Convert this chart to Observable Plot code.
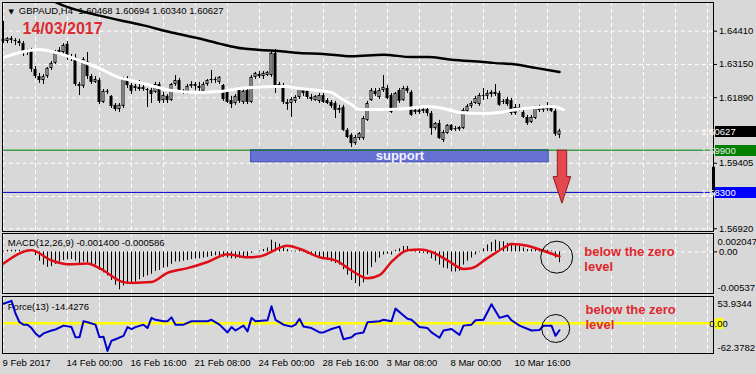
<!DOCTYPE html>
<html><head><meta charset="utf-8">
<script src="https://cdn.jsdelivr.net/npm/d3@7"></script>
<script src="https://cdn.jsdelivr.net/npm/@observablehq/plot@0.6"></script>
<style>
html,body{margin:0;padding:0;background:#d8d8d8;}
#chart{position:relative;width:756px;height:374px;background:#d8d8d8;overflow:hidden;font-family:"Liberation Sans",Arial,sans-serif;}
#chart svg{position:absolute;left:0;}
</style></head><body><div id="chart"></div>
<script>
// ---------- DATA ----------
const symbolTitle = "GBPAUD,H4\u00a0 1.60468 1.60694 1.60340 1.60627";
const dateTitle = "14/03/2017";
const opens = [1.6410,1.6402,1.6413,1.6406,1.6402,1.6394,1.6360,1.6364,1.6296,1.6269,
1.6254,1.6269,1.6300,1.6319,1.6360,1.6360,1.6391,1.6341,1.6341,1.6239,
1.6232,1.6326,1.6269,1.6247,1.6254,1.6171,1.6213,1.6194,1.6160,1.6144,
1.6156,1.6258,1.6235,1.6224,1.6228,1.6220,1.6220,1.6216,1.6209,1.6239,
1.6178,1.6194,1.6178,1.6239,1.6254,1.6213,1.6209,1.6232,1.6239,1.6232,
1.6213,1.6239,1.6254,1.6258,1.6247,1.6235,1.6209,1.6178,1.6167,1.6220,
1.6171,1.6216,1.6171,1.6266,1.6277,1.6269,1.6273,1.6273,1.6357,1.6232,
1.6235,1.6171,1.6167,1.6175,1.6190,1.6216,1.6216,1.6190,1.6178,1.6175,
1.6197,1.6178,1.6171,1.6167,1.6148,1.6152,1.6065,1.6046,1.6015,1.6034,
1.6034,1.6103,1.6178,1.6213,1.6190,1.6216,1.6224,1.6197,1.6141,1.6216,
1.6178,1.6224,1.6209,1.6141,1.6141,1.6144,1.6144,1.6129,1.6072,1.6091,
1.6027,1.6053,1.6084,1.6072,1.6068,1.6072,1.6137,1.6156,1.6167,1.6163,
1.6194,1.6194,1.6201,1.6209,1.6205,1.6175,1.6182,1.6178,1.6129,1.6152,
1.6133,1.6114,1.6095,1.6110,1.6148,1.6141,1.6144,1.6152,1.6137,1.60468];
const highs = [1.6478,1.6417,1.6421,1.6413,1.6410,1.6402,1.6372,1.6376,1.6307,1.6281,
1.6277,1.6303,1.6326,1.6368,1.6379,1.6394,1.6402,1.6353,1.6353,1.6247,
1.6341,1.6360,1.6277,1.6269,1.6262,1.6220,1.6220,1.6197,1.6167,1.6167,
1.6266,1.6269,1.6243,1.6239,1.6254,1.6235,1.6224,1.6224,1.6247,1.6247,
1.6209,1.6201,1.6243,1.6273,1.6262,1.6220,1.6239,1.6250,1.6247,1.6247,
1.6247,1.6258,1.6292,1.6266,1.6269,1.6239,1.6216,1.6194,1.6201,1.6228,
1.6220,1.6228,1.6273,1.6285,1.6288,1.6288,1.6288,1.6364,1.6372,1.6247,
1.6243,1.6182,1.6190,1.6197,1.6224,1.6224,1.6224,1.6201,1.6197,1.6205,
1.6205,1.6186,1.6178,1.6175,1.6160,1.6160,1.6072,1.6053,1.6046,1.6057,
1.6118,1.6175,1.6224,1.6224,1.6224,1.6273,1.6235,1.6205,1.6209,1.6224,
1.6232,1.6232,1.6216,1.6156,1.6152,1.6152,1.6152,1.6137,1.6095,1.6103,
1.6065,1.6087,1.6087,1.6080,1.6080,1.6148,1.6163,1.6175,1.6194,1.6205,
1.6224,1.6216,1.6216,1.6239,1.6213,1.6182,1.6190,1.6186,1.6163,1.6163,
1.6141,1.6122,1.6122,1.6156,1.6160,1.6156,1.6171,1.6160,1.6148,1.60694];
const lows = [1.6394,1.6394,1.6394,1.6387,1.6383,1.6345,1.6349,1.6285,1.6262,1.6243,
1.6239,1.6262,1.6292,1.6315,1.6349,1.6353,1.6330,1.6326,1.6232,1.6197,
1.6224,1.6258,1.6239,1.6243,1.6163,1.6167,1.6201,1.6148,1.6137,1.6133,
1.6148,1.6224,1.6201,1.6213,1.6213,1.6213,1.6152,1.6167,1.6205,1.6167,
1.6167,1.6167,1.6175,1.6232,1.6205,1.6201,1.6201,1.6224,1.6216,1.6213,
1.6205,1.6232,1.6243,1.6243,1.6239,1.6175,1.6167,1.6148,1.6160,1.6167,
1.6163,1.6163,1.6167,1.6258,1.6262,1.6258,1.6269,1.6266,1.6205,1.6224,
1.6163,1.6141,1.6114,1.6167,1.6182,1.6194,1.6182,1.6175,1.6175,1.6167,
1.6167,1.6163,1.6148,1.6110,1.6129,1.6061,1.6034,1.6000,1.6008,1.6027,
1.6027,1.6099,1.6175,1.6194,1.6182,1.6209,1.6182,1.6129,1.6137,1.6167,
1.6175,1.6205,1.6118,1.6125,1.6125,1.6129,1.6118,1.6046,1.6065,1.6031,
1.6019,1.6050,1.6061,1.6061,1.6061,1.6068,1.6129,1.6148,1.6163,1.6156,
1.6178,1.6182,1.6190,1.6194,1.6156,1.6163,1.6156,1.6122,1.6122,1.6137,
1.6110,1.6084,1.6091,1.6106,1.6133,1.6133,1.6137,1.6133,1.6042,1.60340];
const closes = [1.6402,1.6413,1.6406,1.6402,1.6394,1.6357,1.6364,1.6296,1.6269,1.6254,
1.6269,1.6300,1.6319,1.6360,1.6368,1.6387,1.6341,1.6338,1.6239,1.6232,
1.6334,1.6269,1.6247,1.6258,1.6171,1.6213,1.6209,1.6156,1.6144,1.6160,
1.6258,1.6235,1.6213,1.6232,1.6220,1.6228,1.6216,1.6201,1.6239,1.6175,
1.6197,1.6178,1.6239,1.6254,1.6213,1.6216,1.6232,1.6239,1.6232,1.6224,
1.6239,1.6254,1.6258,1.6254,1.6266,1.6182,1.6171,1.6163,1.6194,1.6175,
1.6213,1.6171,1.6266,1.6281,1.6269,1.6281,1.6285,1.6357,1.6228,1.6239,
1.6171,1.6163,1.6182,1.6190,1.6220,1.6205,1.6190,1.6182,1.6194,1.6197,
1.6171,1.6167,1.6156,1.6141,1.6141,1.6065,1.6038,1.6015,1.6038,1.6053,
1.6110,1.6167,1.6216,1.6201,1.6216,1.6228,1.6186,1.6133,1.6205,1.6175,
1.6224,1.6213,1.6122,1.6133,1.6133,1.6137,1.6129,1.6072,1.6091,1.6034,
1.6057,1.6084,1.6065,1.6068,1.6076,1.6141,1.6156,1.6167,1.6186,1.6197,
1.6197,1.6205,1.6209,1.6201,1.6160,1.6171,1.6163,1.6129,1.6152,1.6144,
1.6114,1.6091,1.6114,1.6148,1.6141,1.6148,1.6152,1.6137,1.6050,1.60627];

// moving averages read at bar indexes
const maSlowIdx = [12,15,24,35,42,49,54,60,64,70,74,80,87,95,102,106,112,120,123,128,133,139];
const maSlowVal = [1.6558,1.6538,1.6500,1.6463,1.6436,1.6413,1.6394,1.6375,1.6370,1.6364,1.6358,1.6355,1.6346,1.6352,1.6343,1.6343,1.6333,1.6324,1.6320,1.6315,1.6302,1.6286];
const maFastIdx = [0,4,9,14,19,24,29,32,35,42,49,54,59,63,67,70,74,82,84,87,89,95,101,106,110,114,120,124,128,133,137,140];
const maFastVal = [1.6341,1.6360,1.6372,1.6356,1.6330,1.6300,1.6265,1.6254,1.6243,1.6216,1.6209,1.6212,1.6224,1.6228,1.6231,1.6231,1.6224,1.6209,1.6190,1.6163,1.6144,1.6144,1.6148,1.6156,1.6148,1.6133,1.6129,1.6133,1.6144,1.6152,1.6156,1.6144];

// MACD main (histogram) per bar
const macdMain = [0.0001,0.0002,0.0002,0.0002,0.0002,0.0001,0.0001,0.0000,-0.0005,-0.0012,
-0.0017,-0.0020,-0.0019,-0.0016,-0.0013,-0.0011,-0.0010,-0.0010,-0.0012,-0.0015,
-0.0013,-0.0014,-0.0016,-0.0017,-0.0024,-0.0027,-0.0031,-0.0037,-0.0043,-0.0049,
-0.0044,-0.0042,-0.0041,-0.0039,-0.0036,-0.0033,-0.0031,-0.0029,-0.0025,-0.0024,
-0.0021,-0.0020,-0.0016,-0.0013,-0.0013,-0.0012,-0.0011,-0.0010,-0.0009,-0.0009,
-0.0008,-0.0007,-0.0006,-0.0005,-0.0005,-0.0007,-0.0008,-0.0009,-0.0009,-0.0008,
-0.0007,-0.0006,-0.0002,0.0000,0.0001,0.0003,0.0005,0.0015,0.0012,0.0010,
0.0006,0.0003,0.0001,0.0001,0.0002,-0.0001,-0.0003,-0.0005,-0.0006,-0.0007,
-0.0009,-0.0011,-0.0013,-0.0015,-0.0017,-0.0023,-0.0030,-0.0037,-0.0041,-0.0045,
-0.0040,-0.0030,-0.0020,-0.0014,-0.0008,-0.0004,-0.0003,-0.0004,0.0002,0.0004,
0.0007,0.0007,0.0001,-0.0001,-0.0002,-0.0002,-0.0003,-0.0009,-0.0012,-0.0017,
-0.0021,-0.0022,-0.0026,-0.0026,-0.0025,-0.0017,-0.0012,-0.0008,-0.0004,-0.0001,
0.0004,0.0009,0.0012,0.0015,0.0013,0.0013,0.0011,0.0009,0.0008,0.0007,
0.0005,0.0003,0.0003,0.0004,0.0003,0.0003,0.0002,0.0001,-0.0008,-0.0014];
const signalIdx = [0,7,12,16,21,24,30,32,37,41,46,51,56,61,64,71,74,79,83,87,91,94,97,101,104,107,111,115,117,121,125,127,131,134,139];
const signalVal = [-0.0015,0.0002,-0.0011,-0.0016,-0.0015,-0.0021,-0.0039,-0.0040,-0.0039,-0.0027,-0.0021,-0.0013,-0.0003,-0.0007,-0.0006,0.0008,0.0004,-0.0007,-0.0011,-0.0024,-0.0034,-0.0030,-0.0013,0.0002,0.0003,0.0000,-0.0011,-0.0022,-0.0021,-0.0008,0.0005,0.0010,0.0008,0.0003,-0.000586];

// Force(13)
const forceIdx = [0,2,3,4,5,6,7,8,9,10,12,13,15,17,18,19,20,21,23,24,25,26,27,28,30,31,32,33,35,36,37,38,40,41,42,43,45,47,51,52,54,56,57,58,60,61,62,63,66,67,68,70,72,73,74,75,77,79,80,82,84,85,87,88,90,91,94,95,97,98,100,101,102,104,106,107,109,110,112,114,115,117,118,120,122,124,126,127,129,132,134,135,137,138,139];
const forceVal = [40,46,20,2,-3,-3,-10,-21,-28,-21,-15,-13,-5,-8,-29,-29,4,2,-3,-29,-28,-57,-36,-33,-26,-8,-12,-8,-3,-10,11,7,4,4,12,-3,-3,4,4,7,-3,-19,-8,-15,-5,-17,11,4,6,35,7,-3,-7,-3,9,-7,-10,-19,-19,-12,-7,-33,-29,-22,-19,2,4,7,4,30,16,9,7,-8,-10,-19,-30,-15,-12,-24,-5,-3,6,7,39,11,16,6,-5,-15,-14,-5,-5,-26,-14.4276];

// axes
const priceGrid = [1.64410,1.63150,1.61890,1.60630,1.59405,1.58145,1.56920];
const priceLabels = [1.64410,1.63150,1.61890,1.59405,1.56920];
const gridIdx = d3.range(0, 177, 8);
const dateIdx = [0,16,32,48,64,80,96,112,128];
const dateLabels = ["9 Feb 2017","14 Feb 00:00","16 Feb 16:00","21 Feb 08:00","24 Feb 00:00","28 Feb 16:00","3 Mar 08:00","8 Mar 00:00","10 Mar 16:00"];
const macdLabel = "MACD(12,26,9) -0.001400 -0.000586";
const macdRange = [-0.00537, 0.002047];
const forceLabel = "Force(13) -14.4276";
const forceRange = [-62.3782, 53.9344];

// annotations
const currentPrice = 1.60627;
const levelSupport = 1.59900;
const levelTarget = 1.58300;
const supportBox = {i1: 61.9, i2: 136.3, p1: 1.5944, p2: 1.5990, label: "support"};
const arrowI = [138.45,140.8,140.8,141.8,139.6,137.4,138.45,138.45];
const arrowP = [1.5990,1.5990,1.5890,1.5890,1.5789,1.5890,1.5890,1.5990];
const noteText = "below the zero\nlevel";
const macdNote = {i: 145.2, v: -0.00089, ci: 138.3, cv: -0.00068};
const forceNote = {i: 145.5, v: 13.5, ci: 138.05, cv: -10.9};

// ---------- DRAW ----------
const FONT = '"Liberation Sans", Arial, sans-serif';
const GRID = {stroke: "#ffffff", strokeDasharray: "4,3", strokeWidth: 1};
const X_DOMAIN = [-0.25, 177.5];
const xScale = {domain: X_DOMAIN, range: [2, 713], axis: null};
const baseStyle = {background: "transparent", fontFamily: FONT, fontSize: "9.5px", color: "#000", overflow: "visible"};
const RED = "#e0262d";
const SVG_W = 756;

const bars = closes.map((c, i) => ({i, o: opens[i], h: highs[i], l: lows[i], c}));
const slow = maSlowIdx.map((i, k) => ({i, v: maSlowVal[k]}));
const fast = maFastIdx.map((i, k) => ({i, v: maFastVal[k]}));
const macdRows = macdMain.map((v, i) => ({i, v}));
const sigRows = signalIdx.map((i, k) => ({i, v: signalVal[k]}));
const forceRows = forceIdx.map((i, k) => ({i, v: forceVal[k]}));
const arrowRows = arrowI.map((i, k) => ({i, p: arrowP[k]}));

// price tag on the right axis, positioned with the plot's own scales
function tag(value, bg, fg, label, wFull = true) {
  return (index, scales) => {
    const y = Math.round(scales.y(value));
    const x0 = scales.x(X_DOMAIN[1]) + 2;
    const g = d3.create("svg:g");
    g.append("rect").attr("x", x0).attr("y", y - 5).attr("width", wFull ? SVG_W - x0 : 8).attr("height", 11).attr("fill", bg);
    g.append("text").attr("x", x0 + 3.5).attr("y", y + 0.5).attr("dy", "0.35em").attr("fill", fg)
      .attr("font-size", 9.5).attr("font-family", FONT).text(label);
    return g.node();
  };
}
function marker(p1, p2) {
  return (index, scales) => {
    const x = scales.x(X_DOMAIN[1]);
    const y1 = scales.y(p2), y2 = scales.y(p1);
    return d3.create("svg:rect").attr("x", x - 1).attr("y", y1).attr("width", 3).attr("height", y2 - y1).attr("fill", "#000").node();
  };
}

const main = Plot.plot({
  width: SVG_W, height: 232,
  marginLeft: 2, marginRight: 43, marginTop: 2, marginBottom: 1,
  style: baseStyle,
  x: xScale,
  y: {domain: [1.568177, 1.654979], range: [231, 2], axis: null},
  marks: [
    Plot.ruleY(priceGrid, GRID),
    Plot.ruleX(gridIdx, GRID),
    Plot.rect([supportBox], {x1: "i1", x2: "i2", y1: "p1", y2: "p2", fill: "#6770d3", stroke: "#4450bb", strokeWidth: 1}),
    Plot.ruleY([levelSupport], {stroke: "#008000", strokeWidth: 1}),
    Plot.ruleY([levelTarget], {stroke: "#0000c8", strokeWidth: 1}),
    Plot.text(["\u25BC"], {frameAnchor: "top-left", dx: 6, dy: 9, fontSize: 7, lineAnchor: "middle", textAnchor: "start", fill: "#000", fontFamily: "DejaVu Sans"}),
    Plot.text([symbolTitle], {text: d => d, frameAnchor: "top-left", dx: 16.3, dy: 8.7, lineAnchor: "middle", textAnchor: "start", fontSize: 9.5, fill: "#000"}),
    Plot.ruleX(bars, {x: "i", y1: "l", y2: "h", stroke: "#000", strokeWidth: 1}),
    Plot.rect(bars, {x1: d => d.i - 0.375, x2: d => d.i + 0.375, y1: d => Math.min(d.o, d.c), y2: d => Math.max(d.o, d.c), fill: "#000"}),
    Plot.rect(bars.filter(d => d.c - d.o > 0.0007), {x1: d => d.i - 0.375, x2: d => d.i + 0.375, y1: "o", y2: "c", fill: "#fff", insetLeft: 1, insetRight: 1, insetTop: 1, insetBottom: 1}),
    Plot.line(fast, {x: "i", y: "v", stroke: "#ffffff", strokeWidth: 3, curve: "monotone-x"}),
    Plot.line(slow, {x: "i", y: "v", stroke: "#000000", strokeWidth: 2.5, curve: "monotone-x", clip: true}),
    Plot.text([supportBox], {x: d => (d.i1 + d.i2) / 2, y: d => (d.p1 + d.p2) / 2, text: "label", fill: "#f2f2ff", fontWeight: "bold", fontSize: 13, fontFamily: FONT}),
    Plot.line(arrowRows, {x: "i", y: "p", fill: "#e5474f", stroke: "#8e1d22", strokeWidth: 1, curve: "linear"}),
    Plot.frame({stroke: "#000", strokeWidth: 1}),
    Plot.text([dateTitle], {text: d => d, frameAnchor: "top-left", dx: 20, dy: 26, lineAnchor: "middle", textAnchor: "start", fontSize: 16, fontWeight: "bold", fill: "#dc2b30"}),
    Plot.axisY(priceLabels, {anchor: "right", tickSize: 3, tickPadding: 2.5, tickFormat: d => d.toFixed(5), fontSize: 9.5, stroke: "#000", fill: "#000"}),
    marker(levelTarget, 1.5925),
    tag(currentPrice, "#000000", "#ffffff", currentPrice.toFixed(5)),
    tag(levelSupport, "#008000", "#e8e8e8", levelSupport.toFixed(5)),
    tag(levelTarget, "#0000ff", "#ffffff", levelTarget.toFixed(5))
  ]
});

const macd = Plot.plot({
  width: SVG_W, height: 63,
  marginLeft: 2, marginRight: 43, marginTop: 1, marginBottom: 2,
  style: baseStyle,
  x: xScale,
  y: {domain: macdRange, range: [61, 3.5], axis: null},
  marks: [
    Plot.ruleX(gridIdx, GRID),
    Plot.ruleY([0], GRID),
    Plot.ruleX(macdRows, {x: "i", y1: 0, y2: "v", stroke: "#000", strokeWidth: 1}),
    Plot.line(sigRows, {x: "i", y: "v", stroke: "#de0d16", strokeWidth: 2.5, curve: "monotone-x"}),
    Plot.dot([macdNote], {x: "ci", y: "cv", r: 16, stroke: "#000", fill: "none", strokeWidth: 1}),
    Plot.text([macdNote], {x: "i", y: "v", text: () => noteText, textAnchor: "start", lineAnchor: "middle", lineHeight: 1.18, fontSize: 13, fontWeight: "bold", fill: RED}),
    Plot.frame({stroke: "#000", strokeWidth: 1}),
    Plot.text([macdLabel], {text: d => d, frameAnchor: "top-left", dx: 5.3, dy: 9.7, lineAnchor: "middle", textAnchor: "start", fontSize: 9.5, fill: "#000"}),
    Plot.axisY([0], {anchor: "right", tickSize: 3, tickPadding: 2.5, tickFormat: () => "0.00", fontSize: 9.5, stroke: "#000", fill: "#000"}),
    Plot.text([macdRange[1]], {text: d => String(d), frameAnchor: "top-right", dx: 4, dy: 8.7, lineAnchor: "middle", textAnchor: "start", fontSize: 9.5, fill: "#000"}),
    Plot.text([macdRange[0]], {text: d => String(d), frameAnchor: "bottom-right", dx: 4, dy: -5.3, lineAnchor: "middle", textAnchor: "start", fontSize: 9.5, fill: "#000"})
  ]
});

const force = Plot.plot({
  width: SVG_W, height: 79,
  marginLeft: 2, marginRight: 43, marginTop: 1, marginBottom: 21,
  style: baseStyle,
  x: xScale,
  y: {domain: forceRange, range: [58, 1.5], axis: null},
  marks: [
    Plot.ruleX(gridIdx, GRID),
    Plot.ruleY([0], {stroke: "#ffff00", strokeWidth: 2.5}),
    Plot.text([forceLabel], {text: d => d, frameAnchor: "top-left", dx: 5.3, dy: 10, lineAnchor: "middle", textAnchor: "start", fontSize: 9.5, fill: "#000"}),
    Plot.line(forceRows, {x: "i", y: "v", stroke: "#0000cd", strokeWidth: 2, curve: "linear"}),
    Plot.dot([forceNote], {x: "ci", y: "cv", r: 14, stroke: "#000", fill: "none", strokeWidth: 1}),
    Plot.text([forceNote], {x: "i", y: "v", text: () => noteText, textAnchor: "start", lineAnchor: "middle", lineHeight: 1.18, fontSize: 13, fontWeight: "bold", fill: RED}),
    Plot.frame({stroke: "#000", strokeWidth: 1}),
    tag(0, "#ffff00", "#000000", "0.00", false),
    Plot.text([forceRange[1]], {text: d => String(d), frameAnchor: "top-right", dx: 4, dy: 7.3, lineAnchor: "middle", textAnchor: "start", fontSize: 9.5, fill: "#000"}),
    Plot.text([forceRange[0]], {text: d => String(d), frameAnchor: "bottom-right", dx: 4, dy: -5.7, lineAnchor: "middle", textAnchor: "start", fontSize: 9.5, fill: "#000"}),
    Plot.text(dateIdx, {x: d => d, text: (d, k) => dateLabels[k], frameAnchor: "bottom", dy: 9.7, dx: -1, lineAnchor: "middle", textAnchor: "start", fontSize: 9.5, fill: "#000"})
  ]
});

const root = document.getElementById("chart");
[[main, 0], [macd, 232], [force, 295]].forEach(([svg, top]) => {
  svg.style.position = "absolute";
  svg.style.top = top + "px";
  svg.style.left = "0px";
  root.appendChild(svg);
});
</script></body></html>
